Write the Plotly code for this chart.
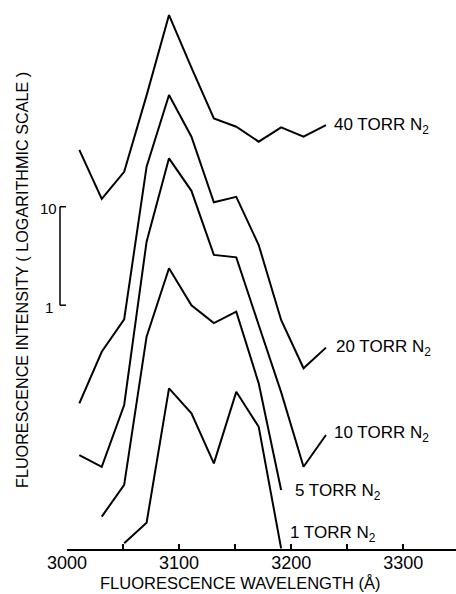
import math
import plotly.graph_objects as go

# Wavelengths (Angstrom)
wl_full = [3011, 3031, 3051, 3071, 3091, 3111, 3131, 3151, 3171, 3191, 3211, 3231]
wl_5 = [3031, 3051, 3071, 3091, 3111, 3131, 3151, 3171, 3191]
wl_1 = [3051, 3071, 3091, 3111, 3131, 3151, 3171, 3191]

# Relative fluorescence intensities (log scale, curves displaced vertically)
i_40 = [37.7, 12.0, 22.6, 135, 883, 258, 78.9, 64.9, 45.7, 64.0, 51.4, 67.5]
i_20 = [0.101, 0.337, 0.719, 25.5, 136, 51.4, 11.1, 12.6, 4.08, 0.708, 0.229, 0.371]
i_10 = [0.0301, 0.0229, 0.0971, 4.42, 31.0, 14.5, 3.24, 3.06, 0.630, 0.131, 0.0229, 0.0481]
i_5 = [0.00713, 0.0150, 0.479, 2.37, 1.00, 0.659, 0.859, 0.161, 0.0133]
i_1 = [0.00383, 0.00619, 0.143, 0.0800, 0.0248, 0.132, 0.0583, 0.0034]

series_names = ["40 TORR N<sub>2</sub>", "20 TORR N<sub>2</sub>", "10 TORR N<sub>2</sub>",
                "5 TORR N<sub>2</sub>", "1 TORR N<sub>2</sub>"]

tick_vals = [3000, 3050, 3100, 3150, 3200, 3250, 3300]
tick_text = ["3000", "", "3100", "", "3200", "", "3300"]

scale_bar = [1, 10]

FONT = "Liberation Sans, Arial, sans-serif"

series = [(wl_full, i_40), (wl_full, i_20), (wl_full, i_10), (wl_5, i_5), (wl_1, i_1)]
label_shift = [(6, -1), (8, 0), (6, 1), (12, -2), (7, 14)]

fig = go.Figure()
for (xs, ys), name in zip(series, series_names):
    fig.add_trace(go.Scatter(x=xs, y=ys, mode="lines", name=name,
                             line=dict(color="black", width=2), showlegend=False))

annotations = []
for (xs, ys), name, (dx, dy) in zip(series, series_names, label_shift):
    annotations.append(dict(x=xs[-1], y=math.log10(ys[-1]), xref="x", yref="y",
                            text=name, showarrow=False, xanchor="left", yanchor="middle",
                            xshift=dx, yshift=dy,
                            font=dict(family=FONT, size=17, color="black")))

# scale bar labels
annotations.append(dict(x=-(67 - 59) / 389, y=math.log10(scale_bar[1]), xref="paper", yref="y",
                        text="10", showarrow=False, xanchor="right", yanchor="middle",
                        yshift=-2, font=dict(family=FONT, size=15, color="black")))
annotations.append(dict(x=-(67 - 55) / 389, y=math.log10(scale_bar[0]), xref="paper", yref="y",
                        text="1", showarrow=False, xanchor="right", yanchor="middle",
                        yshift=-2, font=dict(family=FONT, size=15, color="black")))

# axis titles
annotations.append(dict(x=(240 - 67) / 389, y=-(583 - 549) / 539, xref="paper", yref="paper",
                        text="FLUORESCENCE WAVELENGTH (Å)", showarrow=False,
                        xanchor="center", yanchor="middle",
                        font=dict(family=FONT, size=16.5, color="black")))
annotations.append(dict(x=-(67 - 22) / 389, y=(549 - 280) / 539, xref="paper", yref="paper",
                        text="FLUORESCENCE INTENSITY ( LOGARITHMIC SCALE )", showarrow=False,
                        textangle=-90, xanchor="center", yanchor="middle",
                        font=dict(family=FONT, size=16.2, color="black")))

bx = -(67 - 60) / 389
bx2 = -(67 - 66) / 389
shapes = [
    dict(type="line", xref="paper", yref="y", x0=bx, x1=bx, y0=scale_bar[0], y1=scale_bar[1],
         line=dict(color="black", width=1.5)),
    dict(type="line", xref="paper", yref="y", x0=bx, x1=bx2, y0=scale_bar[1], y1=scale_bar[1],
         line=dict(color="black", width=1.5)),
    dict(type="line", xref="paper", yref="y", x0=bx, x1=bx2, y0=scale_bar[0], y1=scale_bar[0],
         line=dict(color="black", width=1.5)),
]

fig.update_layout(
    width=456, height=594,
    margin=dict(l=67, r=0, t=10, b=45),
    paper_bgcolor="white", plot_bgcolor="white",
    font=dict(family=FONT, color="black"),
    annotations=annotations,
    shapes=shapes,
    xaxis=dict(range=[3000, 3347], showgrid=False, zeroline=False,
               showline=True, linecolor="black", linewidth=2,
               ticks="inside", ticklen=5, tickwidth=1.5, tickcolor="black",
               tickmode="array", tickvals=tick_vals, ticktext=tick_text,
               ticklabelstandoff=-4,
               tickfont=dict(family=FONT, size=18, color="black")),
    yaxis=dict(type="log", range=[-2.475, 2.997], visible=False, showgrid=False),
)

fig.write_html("out.html", config={"displayModeBar": False},
               post_script="document.body.style.margin='0';")
